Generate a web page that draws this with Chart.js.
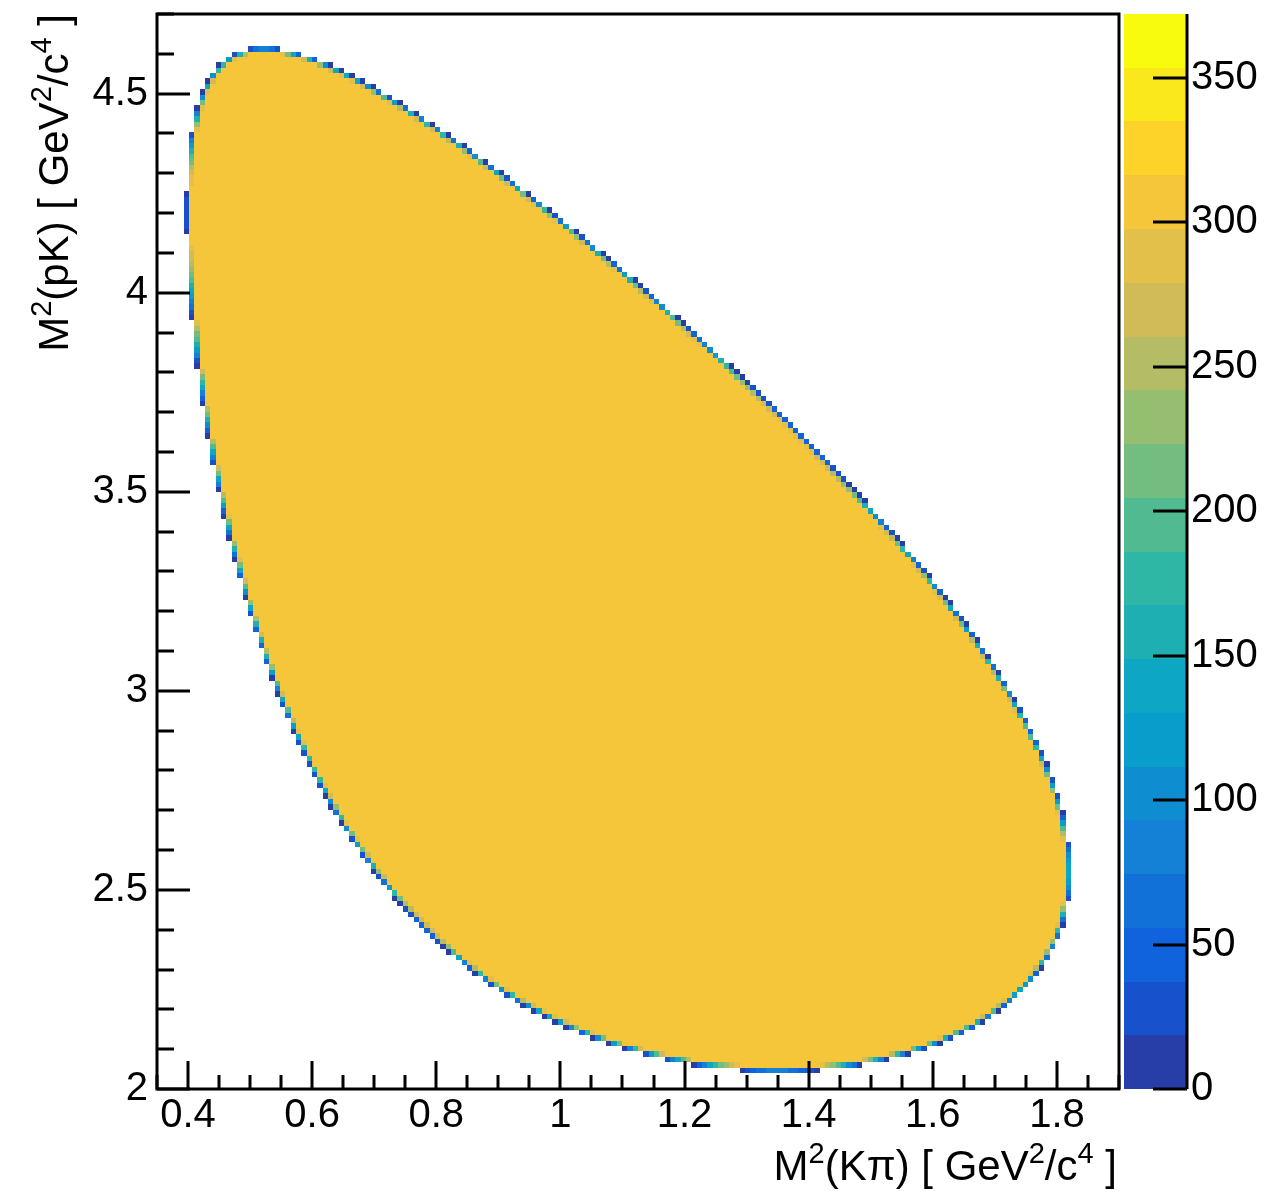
<!DOCTYPE html>
<html>
<head>
<meta charset="utf-8">
<title>Dalitz plot</title>
<script src="https://cdn.jsdelivr.net/npm/chart.js@4.4.0/dist/chart.umd.min.js"></script>
<style>
  html, body { margin: 0; padding: 0; background: #fff; }
</style>
</head>
<body>
<canvas id="dalitz" width="1272" height="1191"></canvas>
<script>
// Lambda_c+ -> p K- pi+ phase space, masses in GeV/c^2
const massLc = 2.28646
const massP = 0.93827
const massK = 0.49368
const massPi = 0.13957

// histogram binning
const xRange = [0.35, 1.9]
const yRange = [2.0, 4.7]
const nBinsX = 180
const nBinsY = 200

// mean entries of a bin lying fully inside the allowed region
const meanEntries = 310
const zMax = 372
const nContours = 20

const xTicks = [0.4, 0.6, 0.8, 1.0, 1.2, 1.4, 1.6, 1.8]
const xTickLabels = ['0.4', '0.6', '0.8', '1', '1.2', '1.4', '1.6', '1.8']
const yTicks = [2, 2.5, 3, 3.5, 4, 4.5]
const yTickLabels = ['2', '2.5', '3', '3.5', '4', '4.5']
const zTicks = [0, 50, 100, 150, 200, 250, 300, 350]
const zTickLabels = ['0', '50', '100', '150', '200', '250', '300', '350']

const FONT = 'Liberation Sans, Arial, Helvetica, sans-serif'

const binW = (xRange[1] - xRange[0]) / nBinsX
const binH = (yRange[1] - yRange[0]) / nBinsY
const binLowX = i => xRange[0] + i * binW
const binLowY = j => yRange[0] + j * binH

// allowed M2(pK) range for a given M2(Kpi)
const pkLimits = s => {
  const m = Math.sqrt(s)
  const eK = (s + massK * massK - massPi * massPi) / (2 * m)
  const eP = (massLc * massLc - s - massP * massP) / (2 * m)
  if (eK < massK || eP < massP) return null
  const pK = Math.sqrt(eK * eK - massK * massK)
  const pP = Math.sqrt(eP * eP - massP * massP)
  const e2 = (eK + eP) * (eK + eP)
  return [e2 - (pK + pP) * (pK + pP), e2 - (pK - pP) * (pK - pP)]
}

// bin contents: mean entries times the share of the bin inside the boundary
const SUB = 16
const cells = []
for (let i = 0; i < nBinsX; i++) {
  const x0 = binLowX(i)
  const limits = []
  for (let k = 0; k < SUB; k++) limits.push(pkLimits(x0 + (k + 0.5) * binW / SUB))
  for (let j = 0; j < nBinsY; j++) {
    const y0 = binLowY(j)
    const y1 = binLowY(j + 1)
    let covered = 0
    for (const lim of limits) {
      if (!lim) continue
      const lo = Math.max(lim[0], y0)
      const hi = Math.min(lim[1], y1)
      if (hi > lo) covered += hi - lo
    }
    const entries = Math.round(meanEntries * covered / (binH * SUB))
    if (entries > 0) cells.push({ x: x0 + binW / 2, y: y0 + binH / 2, i, j, v: entries })
  }
}

// ROOT kBird palette
const birdStops = [0.0, 0.125, 0.25, 0.375, 0.5, 0.625, 0.75, 0.875, 1.0]
const birdR = [0.2082, 0.0592, 0.0780, 0.0232, 0.1802, 0.5301, 0.8186, 0.9956, 0.9764]
const birdG = [0.1664, 0.3599, 0.5041, 0.6419, 0.7178, 0.7492, 0.7328, 0.7862, 0.9832]
const birdB = [0.5293, 0.8684, 0.8385, 0.7914, 0.6425, 0.4662, 0.3499, 0.1968, 0.0539]

const birdColor = t => {
  let k = 0
  while (k < birdStops.length - 2 && t > birdStops[k + 1]) k++
  const f = (t - birdStops[k]) / (birdStops[k + 1] - birdStops[k])
  const c = arr => Math.round(255 * (arr[k] + (arr[k + 1] - arr[k]) * f))
  return `rgb(${c(birdR)}, ${c(birdG)}, ${c(birdB)})`
}

// same colour pick as COLZ with 255 palette entries and 20 contours
const contourColors = []
for (let i = 0; i < nContours; i++) {
  const idx = Math.min(254, Math.floor((i + 0.99) * 255 / nContours))
  contourColors.push(birdColor(idx / 254))
}

const colorFor = v => contourColors[Math.min(nContours - 1, Math.floor(v / zMax * nContours))]

const drawRich = (ctx, parts, x, y) => {
  const base = `42px ${FONT}`
  const sup = `29px ${FONT}`
  let total = 0
  for (const p of parts) {
    ctx.font = p.sup ? sup : base
    total += ctx.measureText(p.t).width
  }
  let cx = x - total
  ctx.textAlign = 'left'
  ctx.textBaseline = 'alphabetic'
  for (const p of parts) {
    ctx.font = p.sup ? sup : base
    ctx.fillText(p.t, cx, p.sup ? y - 17 : y)
    cx += ctx.measureText(p.t).width
  }
}

const xTitle = [
  { t: 'M' }, { t: '2', sup: true }, { t: '(K' }, { t: 'π' }, { t: ') [ GeV' },
  { t: '2', sup: true }, { t: '/c' }, { t: '4', sup: true }, { t: ' ]' }
]
const yTitle = [
  { t: 'M' }, { t: '2', sup: true }, { t: '(pK) [ GeV' },
  { t: '2', sup: true }, { t: '/c' }, { t: '4', sup: true }, { t: ' ]' }
]

const colzPlugin = {
  id: 'colz',
  beforeDatasetsDraw(chart) {
    const { ctx, scales: { x, y } } = chart
    ctx.save()
    for (const c of chart.data.datasets[0].data) {
      const px0 = Math.round(x.getPixelForValue(binLowX(c.i)))
      const px1 = Math.round(x.getPixelForValue(binLowX(c.i + 1)))
      const py0 = Math.round(y.getPixelForValue(binLowY(c.j)))
      const py1 = Math.round(y.getPixelForValue(binLowY(c.j + 1)))
      ctx.fillStyle = colorFor(c.v)
      ctx.fillRect(px0, py1, px1 - px0, py0 - py1)
    }
    ctx.restore()
  },
  afterDraw(chart) {
    const { ctx, chartArea, scales: { x, y, z } } = chart
    const { left, right, top, bottom } = chartArea
    ctx.save()
    ctx.strokeStyle = '#000'
    ctx.lineWidth = 3

    // frame
    ctx.strokeRect(left, top, right - left, bottom - top)

    // tick marks pointing into the frame
    ctx.beginPath()
    for (let k = 0; k <= 31; k++) {
      const v = xRange[0] + k * 0.05
      const major = xTicks.some(t => Math.abs(t - v) < 1e-6)
      const px = Math.round(x.getPixelForValue(v))
      ctx.moveTo(px, bottom)
      ctx.lineTo(px, bottom - (major ? 28 : 14))
    }
    for (let k = 0; k <= 27; k++) {
      const v = yRange[0] + k * 0.1
      const major = yTicks.some(t => Math.abs(t - v) < 1e-6)
      const py = Math.round(y.getPixelForValue(v))
      ctx.moveTo(left, py)
      ctx.lineTo(left + (major ? 33 : 17), py)
    }
    ctx.stroke()

    // colour palette
    const pl = z.left + 5
    const pr = z.left + 68
    for (let i = 0; i < nContours; i++) {
      const yTop = Math.round(z.getPixelForValue((i + 1) * zMax / nContours))
      const yBot = Math.round(z.getPixelForValue(i * zMax / nContours))
      ctx.fillStyle = contourColors[i]
      ctx.fillRect(pl, yTop, pr - pl, yBot - yTop)
    }
    ctx.beginPath()
    ctx.moveTo(pr, z.top)
    ctx.lineTo(pr, z.bottom)
    for (const v of zTicks) {
      const py = Math.round(z.getPixelForValue(v))
      ctx.moveTo(pr - 34, py)
      ctx.lineTo(pr, py)
    }
    ctx.stroke()

    // axis titles
    ctx.fillStyle = '#000'
    drawRich(ctx, xTitle, right - 2, 1180)
    ctx.translate(68, top)
    ctx.rotate(-Math.PI / 2)
    drawRich(ctx, yTitle, 0, 0)
    ctx.restore()
  }
}

const tickFont = { family: FONT, size: 40 }
const noPadding = s => {
  s.paddingTop = 0
  s.paddingBottom = 0
  s.paddingLeft = 0
  s.paddingRight = 0
}
const hiddenGrid = { display: false, drawTicks: false }

new Chart(document.getElementById('dalitz'), {
  type: 'scatter',
  data: {
    datasets: [{
      data: cells,
      pointRadius: 0,
      pointHitRadius: 0
    }]
  },
  plugins: [colzPlugin],
  options: {
    responsive: false,
    animation: false,
    events: [],
    layout: { padding: { top: 14, left: 0, right: 0, bottom: 0 } },
    plugins: { legend: { display: false }, tooltip: { enabled: false } },
    scales: {
      x: {
        type: 'linear',
        position: 'bottom',
        min: xRange[0],
        max: xRange[1],
        grid: hiddenGrid,
        border: { display: false },
        afterBuildTicks: s => { s.ticks = xTicks.map(v => ({ value: v })) },
        afterFit: s => { s.height = 102; noPadding(s) },
        ticks: {
          autoSkip: false,
          maxRotation: 0,
          padding: 3,
          color: '#000',
          font: tickFont,
          callback: (v, i) => xTickLabels[i]
        }
      },
      y: {
        type: 'linear',
        position: 'left',
        min: yRange[0],
        max: yRange[1],
        grid: hiddenGrid,
        border: { display: false },
        afterBuildTicks: s => { s.ticks = yTicks.map(v => ({ value: v })) },
        afterFit: s => { s.width = 157; noPadding(s) },
        ticks: {
          autoSkip: false,
          padding: 9,
          color: '#000',
          font: tickFont,
          callback: (v, i) => yTickLabels[i]
        }
      },
      z: {
        type: 'linear',
        position: 'right',
        min: 0,
        max: zMax,
        grid: hiddenGrid,
        border: { display: false },
        afterBuildTicks: s => { s.ticks = zTicks.map(v => ({ value: v })) },
        afterFit: s => { s.width = 153; noPadding(s) },
        ticks: {
          autoSkip: false,
          padding: 72,
          color: '#000',
          font: tickFont,
          callback: (v, i) => zTickLabels[i]
        }
      }
    }
  }
})
</script>
</body>
</html>
